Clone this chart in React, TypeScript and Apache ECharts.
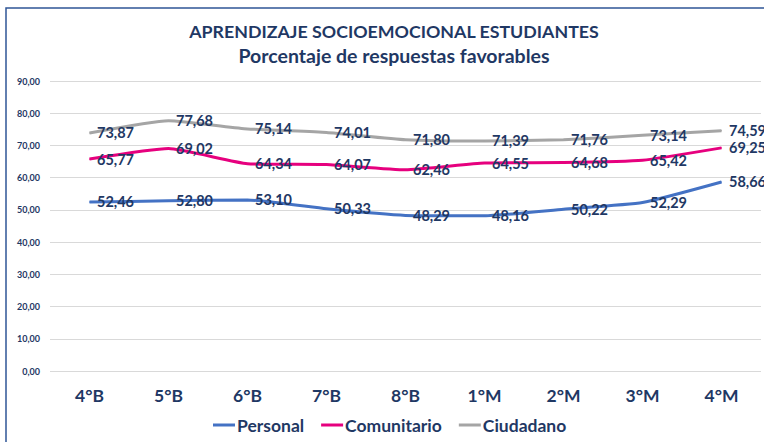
import React, { useEffect, useRef } from "react";
import * as echarts from "echarts";

const categories = ["4°B", "5°B", "6°B", "7°B", "8°B", "1°M", "2°M", "3°M", "4°M"];
const personal = [52.46, 52.8, 53.1, 50.33, 48.29, 48.16, 50.22, 52.29, 58.66];
const comunitario = [65.77, 69.02, 64.34, 64.07, 62.46, 64.55, 64.68, 65.42, 69.25];
const ciudadano = [73.87, 77.68, 75.14, 74.01, 71.8, 71.39, 71.76, 73.14, 74.59];

const NAVY = "#1F3864";
const FONT = "Lato, 'Open Sans', sans-serif";

const fmt = (v: number) => v.toFixed(2).replace(".", ",");

export default function App() {
  const ref = useRef<HTMLDivElement>(null);
  useEffect(() => {
    if (!ref.current) return;
    const chart = echarts.init(ref.current, null, { renderer: "svg" });
    const mk = (name: string, data: number[], color: string) => ({
      name,
      type: "line",
      data,
      smooth: 0.15,
      symbol: "circle",
      symbolSize: 1,
      showSymbol: true,
      lineStyle: { color, width: 3 },
      itemStyle: { color },
      label: {
        show: true,
        position: "right",
        distance: 7,
        formatter: (p: any) => fmt(p.value),
        color: NAVY,
        fontFamily: FONT,
        fontWeight: "bold",
        fontSize: 14.5,
      },
    });
    chart.setOption({
      animation: false,
      backgroundColor: "#ffffff",
      textStyle: { fontFamily: FONT },
      graphic: [
        {
          type: "rect",
          shape: { x: 6, y: 8, width: 800, height: 500 },
          style: { fill: "none", stroke: "#2F5597", lineWidth: 1.5 },
          silent: true,
        },
      ],
      title: {
        text: "{a|APRENDIZAJE SOCIOEMOCIONAL ESTUDIANTES}\n{b|Porcentaje de respuestas favorables}",
        left: 389,
        textAlign: "center",
        top: 13,
        textStyle: {
          rich: {
            a: { color: NAVY, fontFamily: FONT, fontWeight: "bold", fontSize: 17.8, lineHeight: 25, align: "center" },
            b: { color: NAVY, fontFamily: FONT, fontWeight: "bold", fontSize: 19.5, lineHeight: 25, align: "center" },
          },
        },
      },
      legend: {
        bottom: 3,
        left: 208,
        itemWidth: 22,
        itemHeight: 3,
        itemGap: 17,
        icon: "rect",
        textStyle: { color: NAVY, fontFamily: FONT, fontWeight: "bold", fontSize: 17.5, padding: [0, 0, 0, -3] },
        data: ["Personal", "Comunitario", "Ciudadano"],
      },
      grid: { left: 50, right: 3, top: 81, bottom: 71, containLabel: false },
      xAxis: {
        type: "category",
        data: categories,
        boundaryGap: true,
        axisLine: { show: false },
        axisTick: { show: false },
        axisLabel: { color: NAVY, fontFamily: FONT, fontWeight: "bold", fontSize: 17.5, margin: 15 },
      },
      yAxis: {
        type: "value",
        min: 0,
        max: 90,
        interval: 10,
        axisLine: { show: false },
        axisTick: { show: false },
        splitLine: { lineStyle: { color: "#D9D9D9", width: 1 } },
        axisLabel: {
          color: NAVY,
          fontFamily: FONT,
          fontWeight: "bold",
          fontSize: 9,
          margin: 10,
          formatter: (v: number) => fmt(v),
        },
      },
      series: [
        mk("Personal", personal, "#4472C4"),
        mk("Comunitario", comunitario, "#E6007E"),
        mk("Ciudadano", ciudadano, "#A5A5A5"),
      ],
    });
    return () => chart.dispose();
  }, []);
  return (
    <div
      ref={ref}
      style={{ position: "absolute", left: 0, top: 0, width: 764, height: 442 }}
    />
  );
}
